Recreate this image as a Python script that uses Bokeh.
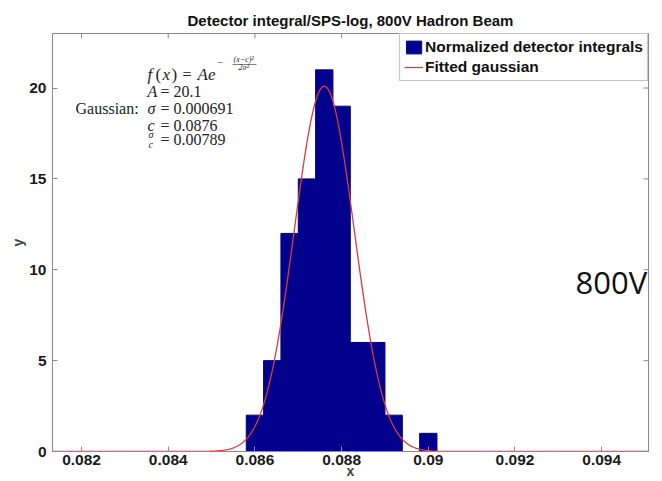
import numpy as np
from bokeh.plotting import figure
from bokeh.models import Label, FixedTicker, Range1d, ColumnDataSource
from bokeh.embed import file_html
from bokeh.resources import INLINE

# ---- data ----
title_text = "Detector integral/SPS-log, 800V Hadron Beam"
bin_centers = [0.0860, 0.0864, 0.0868, 0.0872, 0.0876, 0.0880, 0.0884, 0.0888, 0.0892, 0.0896, 0.0900]
counts = [2, 5, 12, 15, 21, 19, 6, 6, 2, 0, 1]
bin_width = 0.0004
fit_A = 20.1
fit_sigma = 0.000691
fit_c = 0.0876
fit_ratio = 0.00789
x_ticks = [0.082, 0.084, 0.086, 0.088, 0.090, 0.092, 0.094]
x_tick_labels = ["0.082", "0.084", "0.086", "0.088", "0.09", "0.092", "0.094"]
y_ticks = [0, 5, 10, 15, 20]
x_limits = (0.08133, 0.09508)
y_limits = (0, 23)
legend_labels = ["Normalized detector integrals", "Fitted gaussian"]

BAR = "#00008c"
RED = "#dc3a3c"
AX = "#8a8a8a"
SANS = "Liberation Sans"
SERIF = "Liberation Serif"

p = figure(width=662, height=481, output_backend="svg", toolbar_location=None,
           x_range=Range1d(*x_limits), y_range=Range1d(*y_limits),
           min_border_left=52, min_border_right=14, min_border_top=33, min_border_bottom=30,
           title=title_text)
p.title.align = "center"
p.title.text_font = SANS
p.title.text_font_style = "bold"
p.title.text_font_size = "15px"
p.title.text_color = "#111111"
p.title.standoff = 9
p.grid.visible = False
p.outline_line_color = AX
p.background_fill_color = "white"
p.border_fill_color = "white"

src = ColumnDataSource(dict(x=bin_centers, top=counts))
p.vbar(x="x", width=bin_width, top="top", source=src, fill_color=BAR, line_color=BAR,
       legend_label=legend_labels[0])

xs = np.linspace(x_limits[0], x_limits[1], 600)
ys = fit_A * np.exp(-(xs - fit_c) ** 2 / (2 * fit_sigma ** 2))
p.line(xs, ys, line_color=RED, line_width=1.3, legend_label=legend_labels[1])

# inward tick marks on the top and right edges of the box (clipped half-dashes)
p.scatter(x=x_ticks, y=[y_limits[1]] * len(x_ticks), marker="dash", angle=np.pi / 2,
          size=10, line_color=AX, line_width=1)
p.scatter(x=[x_limits[1]] * len(y_ticks), y=y_ticks, marker="dash",
          size=10, line_color=AX, line_width=1)

overrides = {t: l for t, l in zip(x_ticks, x_tick_labels)}

def style_axis(ax, ticks):
    ax.ticker = FixedTicker(ticks=ticks, minor_ticks=[])
    ax.axis_line_color = AX
    ax.major_tick_line_color = AX
    ax.major_tick_in = 5
    ax.major_tick_out = 0
    ax.minor_tick_line_color = None
    ax.major_label_text_font = SANS
    ax.major_label_text_font_style = "bold"
    ax.major_label_text_color = "#1a1a1a"
    ax.major_label_text_font_size = "15.5px"

xa = p.xaxis[0]
style_axis(xa, x_ticks)
xa.major_label_overrides = overrides
xa.major_label_standoff = 3
xa.axis_label = "x"
xa.axis_label_text_font = SANS
xa.axis_label_text_font_style = "bold"
xa.axis_label_text_font_size = "14px"
xa.axis_label_standoff = -5

ya = p.yaxis[0]
style_axis(ya, y_ticks)
ya.major_label_standoff = 6
ya.axis_label = "y"
ya.axis_label_text_font = SANS
ya.axis_label_text_font_style = "bold"
ya.axis_label_text_font_size = "14px"
ya.axis_label_standoff = 0

lg = p.legend[0]
lg.location = "top_right"
lg.margin = 0
lg.padding = 4
lg.spacing = 2
lg.glyph_width = 19
lg.glyph_height = 16
lg.label_height = 16
lg.label_standoff = 2
lg.label_text_font = SANS
lg.label_text_font_style = "bold"
lg.label_text_font_size = "15.5px"
lg.label_text_color = "#111111"
lg.border_line_color = AX
lg.background_fill_alpha = 1.0

# ---- fit annotation ----
X0 = 0.083522
line_y = [20.72, 19.83, 18.90, 17.96, 17.14]

def txt(text, y, dx=0, dy=0, size=16, italic=False, x=X0, font=SERIF):
    p.add_layout(Label(x=x, y=y, x_offset=dx, y_offset=dy, text=text,
                       text_font=font, text_font_size=f"{size}px",
                       text_font_style="italic" if italic else "normal",
                       text_baseline="middle", text_align="left", text_color="#222222"))

txt("f", line_y[0], 0, italic=True, size=17)
txt("(", line_y[0], 8, size=17)
txt("x", line_y[0], 15, italic=True, size=17)
txt(")", line_y[0], 24, size=17)
txt("=", line_y[0], 35)
txt("Ae", line_y[0], 50, italic=True, size=17)
txt("\u2212", line_y[0], 70, 12, size=10)
txt("(x\u2212c)\u00b2", line_y[0], 86, 15, size=8, italic=True)
txt("\u2015\u2015\u2015", line_y[0], 85, 11, size=8)
txt("2\u03c3\u00b2", line_y[0], 91, 7, size=8, italic=True)

txt("A", line_y[1], 0, italic=True)
txt(f"= {fit_A}", line_y[1], 13)
txt("Gaussian:", line_y[2], 0, x=0.081862)
txt("\u03c3", line_y[2], 0, italic=True)
txt(f"= {fit_sigma}", line_y[2], 13)
txt("c", line_y[3], 0, italic=True)
txt(f"= {fit_c}", line_y[3], 13)
txt("\u03c3", line_y[4], 1, 5, size=10, italic=True)
txt("c", line_y[4], 1, -5, size=10, italic=True)
txt(f"= {fit_ratio}", line_y[4], 13)

# side label
p.add_layout(Label(x=0.093396, y=9.3, text="800V", text_font="Open Sans",
                   text_font_size="31px", text_baseline="alphabetic", text_color="#111111"))

open("out.html", "w").write(file_html(p, INLINE))
